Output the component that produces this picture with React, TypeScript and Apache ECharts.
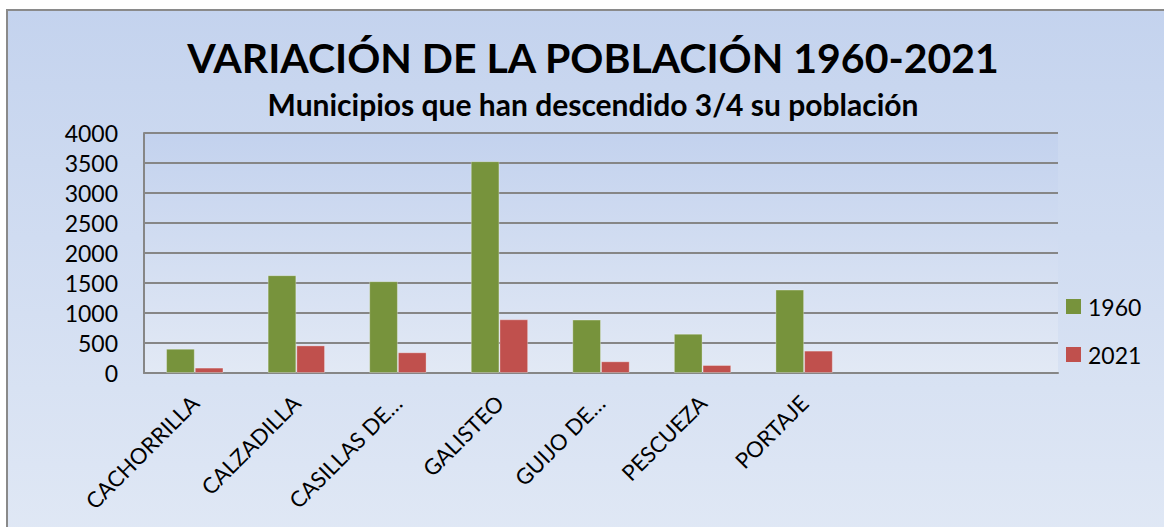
import React, { useEffect, useRef } from "react";
import * as echarts from "echarts";

const categories = [
  "CACHORRILLA",
  "CALZADILLA",
  "CASILLAS DE…",
  "GALISTEO",
  "GUIJO DE…",
  "PESCUEZA",
  "PORTAJE",
  "",
  "",
];
const values1960 = [405, 1630, 1530, 3530, 890, 655, 1390, null, null];
const values2021 = [90, 460, 345, 895, 195, 133, 373, null, null];
const seriesNames = ["1960", "2021"];
const yTicks = { min: 0, max: 4000, interval: 500 };
const titleText = "VARIACIÓN DE LA POBLACIÓN 1960-2021";
const subtitleText = "Municipios que han descendido 3/4 su población";

const FONT = "Lato";

export default function App() {
  const ref = useRef<HTMLDivElement>(null);
  useEffect(() => {
    document.body.style.margin = "0";
    if (!ref.current) return;
    const chart = echarts.init(ref.current, null, { renderer: "svg" });
    const gridColor = "#868686";
    chart.setOption({
      animation: false,
      textStyle: { fontFamily: FONT },
      graphic: [
        {
          type: "rect",
          z: -10,
          silent: true,
          shape: { x: 7, y: 10, width: 1180, height: 530 },
          style: {
            fill: new echarts.graphic.LinearGradient(0, 0, 0, 1, [
              { offset: 0, color: "#C4D3EE" },
              { offset: 1, color: "#E0E8F5" },
            ]),
            stroke: "#8A8A8A",
            lineWidth: 2,
          },
        },
      ],
      title: [
        {
          text: titleText,
          left: 593,
          top: 37,
          textAlign: "center",
          padding: 0,
          textStyle: {
            fontFamily: FONT,
            fontWeight: "bold",
            fontSize: 41,
            color: "#000",
          },
        },
        {
          text: subtitleText,
          left: 593,
          top: 89,
          textAlign: "center",
          padding: 0,
          textStyle: {
            fontFamily: FONT,
            fontWeight: "bold",
            fontSize: 30,
            color: "#000",
          },
        },
      ],
      legend: {
        orient: "vertical",
        left: 1066,
        top: 295,
        padding: 0,
        itemWidth: 15,
        itemHeight: 15,
        itemGap: 25,
        icon: "rect",
        itemStyle: { borderWidth: 0 },
        textStyle: {
          fontFamily: FONT,
          fontSize: 23,
          lineHeight: 23,
          color: "#000",
          padding: [0, 0, 0, 2],
        },
        data: seriesNames,
      },
      grid: {
        left: 144,
        right: 106,
        top: 133,
        bottom: 154,
        show: true,
        borderWidth: 0,
        backgroundColor: new echarts.graphic.LinearGradient(0, 0, 0, 1, [
          { offset: 0, color: "#C3D2EE" },
          { offset: 1, color: "#E2E9F5" },
        ]),
      },
      xAxis: {
        type: "category",
        data: categories,
        axisLine: { show: true, lineStyle: { color: gridColor, width: 2 } },
        axisTick: { show: false },
        axisLabel: {
          interval: 0,
          rotate: 45,
          margin: 26,
          fontFamily: FONT,
          fontSize: 22,
          color: "#000",
        },
      },
      yAxis: {
        type: "value",
        min: yTicks.min,
        max: yTicks.max,
        interval: yTicks.interval,
        axisLine: { show: true, lineStyle: { color: gridColor, width: 2 } },
        axisTick: { show: false },
        splitLine: { show: true, lineStyle: { color: gridColor, width: 2 } },
        axisLabel: {
          margin: 26,
          fontFamily: FONT,
          fontSize: 23,
          color: "#000",
          formatter: (v: number) => String(v),
        },
      },
      series: [
        {
          name: seriesNames[0],
          type: "bar",
          data: values1960,
          barGap: "0%",
          barCategoryGap: "43.5%",
          itemStyle: {
            color: "#77933C",
            borderColor: "rgba(255,255,255,0.3)",
            borderWidth: 1,
          },
        },
        {
          name: seriesNames[1],
          type: "bar",
          data: values2021,
          barGap: "0%",
          barCategoryGap: "43.5%",
          itemStyle: {
            color: "#C0504D",
            borderColor: "rgba(255,255,255,0.3)",
            borderWidth: 1,
          },
        },
      ],
    });
    return () => chart.dispose();
  }, []);
  return <div ref={ref} style={{ width: 1164, height: 527 }} />;
}
